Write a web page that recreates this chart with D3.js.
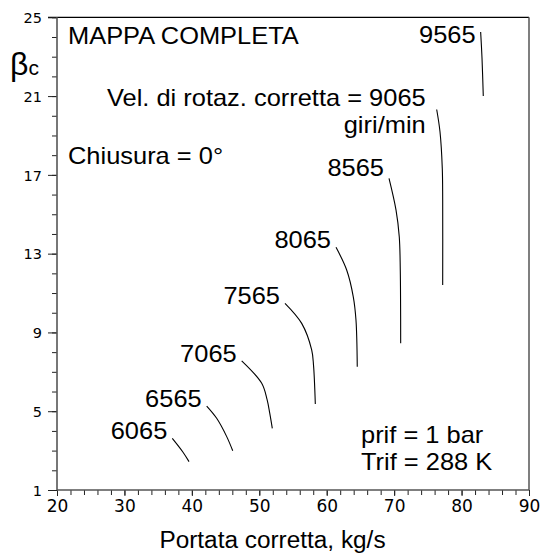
<!DOCTYPE html>
<html>
<head>
<meta charset="utf-8">
<script src="https://cdn.jsdelivr.net/npm/d3@7"></script>
<style>
  html, body { margin: 0; padding: 0; background: #fff; }
  svg { display: block; }
  .lbl { font-family: "Liberation Sans", Arial, Helvetica, sans-serif; fill: #000; }
  .tick-lbl { font-family: "DejaVu Sans", "Liberation Sans", sans-serif; fill: #000; }
</style>
</head>
<body>
<svg id="chart" width="542" height="553"></svg>
<script>
// Corrected rotational speeds (giri/min) of each speed line
const speeds = [6065, 6565, 7065, 7565, 8065, 8565, 9065, 9565];

// Corrected mass flow (kg/s) along each speed line, top to bottom
const flowBySpeed = [
  [37.10, 38.64, 39.58],
  [42.20, 43.68, 45.17, 46.06],
  [47.39, 50.36, 51.15, 51.55, 51.93],
  [53.81, 56.29, 57.77, 58.05, 58.31],
  [61.38, 62.96, 63.94, 64.34, 64.53],
  [69.24, 70.28, 70.76, 70.91, 70.97],
  [76.31, 76.80, 77.14, 77.20, 77.20],
  [82.83, 83.03, 83.22]
];

// Compressor pressure ratio (beta_c) along each speed line
const betaBySpeed = [
  [3.62, 2.94, 2.44],
  [5.26, 4.64, 3.71, 2.99],
  [7.56, 6.42, 5.60, 4.90, 4.13],
  [10.48, 9.46, 8.11, 7.30, 5.37],
  [13.32, 12.17, 10.81, 9.63, 7.26],
  [16.82, 15.21, 13.86, 12.17, 8.45],
  [20.32, 19.19, 17.33, 15.72, 11.41],
  [24.25, 22.93, 21.00]
];

// Axis tick values
const xTickValues = [20, 30, 40, 50, 60, 70, 80, 90];
const xMinorValues = d3.range(20, 91, 2);
const yTickValues = [1, 5, 9, 13, 17, 21, 25];
const yMinorValues = d3.range(1, 26, 1);

const svg = d3.select("#chart");

const x = d3.scaleLinear().domain([20, 90]).range([57, 529]);
const y = d3.scaleLinear().domain([1, 25]).range([490, 17.3]);

// Text helper: slightly widened sans-serif lettering
const WIDEN = 1.06;
function label(parent, px, py, str, size, anchor) {
  return parent.append("text").attr("class", "lbl")
    .attr("transform", `translate(${px},${py}) scale(${WIDEN},1)`)
    .attr("text-anchor", anchor || "start")
    .style("font-size", size + "px")
    .text(str);
}

// Frame: black top edge, grey right edge
svg.append("line")
  .attr("x1", 48).attr("x2", x(90))
  .attr("y1", y(25)).attr("y2", y(25))
  .attr("stroke", "#000").attr("stroke-width", 1.2);
svg.append("line")
  .attr("x1", x(90)).attr("x2", x(90))
  .attr("y1", y(25)).attr("y2", y(1))
  .attr("stroke", "#555").attr("stroke-width", 1.5);

// Y axis
const yMinor = svg.append("g").attr("transform", `translate(${x(20)},0)`)
  .call(d3.axisLeft(y).tickValues(yMinorValues).tickSize(5).tickFormat(""));
const yMajor = svg.append("g").attr("transform", `translate(${x(20)},0)`)
  .call(d3.axisLeft(y).tickValues(yTickValues).tickSize(9).tickPadding(6));
[yMinor, yMajor].forEach(g => {
  g.select(".domain").remove();
  g.selectAll(".tick line").attr("stroke", "#222").attr("stroke-width", 1);
});
yMajor.selectAll(".tick text")
  .attr("class", "tick-lbl")
  .style("font-size", "14.5px")
  .attr("dy", "0.36em");

// X axis
const xMinor = svg.append("g").attr("transform", `translate(0,${y(1)})`)
  .call(d3.axisBottom(x).tickValues(xMinorValues).tickSize(5).tickFormat(""));
const xMajor = svg.append("g").attr("transform", `translate(0,${y(1)})`)
  .call(d3.axisBottom(x).tickValues(xTickValues).tickSize(6).tickPadding(4));
[xMinor, xMajor].forEach(g => {
  g.select(".domain").remove();
  g.selectAll(".tick line").attr("stroke", "#222").attr("stroke-width", 1);
});
xMajor.selectAll(".tick text")
  .attr("class", "tick-lbl")
  .style("font-size", "17px");

// Axis lines
svg.append("line")
  .attr("x1", x(20)).attr("x2", x(20))
  .attr("y1", y(25)).attr("y2", y(1))
  .attr("stroke", "#555").attr("stroke-width", 1.6);
svg.append("line")
  .attr("x1", x(20)).attr("x2", x(90))
  .attr("y1", y(1)).attr("y2", y(1))
  .attr("stroke", "#555").attr("stroke-width", 1.6);

// Axis titles
label(svg, 272.5, 548, "Portata corretta, kg/s", 23, "middle");

const yTitle = svg.append("text").attr("class", "lbl")
  .attr("x", 10).attr("y", 75)
  .style("font-size", "32px");
yTitle.append("tspan").text("β");
yTitle.append("tspan").attr("x", 28.5).attr("dy", 0).style("font-size", "21px").text("c");

// Speed lines
const line = d3.line()
  .x(d => x(d[0]))
  .y(d => y(d[1]))
  .curve(d3.curveCatmullRom.alpha(0.5));

const series = speeds.map((s, i) => ({
  speed: s,
  points: flowBySpeed[i].map((f, j) => [f, betaBySpeed[i][j]])
}));

svg.append("g").selectAll("path")
  .data(series)
  .join("path")
  .attr("d", d => line(d.points))
  .attr("fill", "none")
  .attr("stroke", "#000")
  .attr("stroke-width", 1.1);

// Speed labels, set just left of the top of each line
const fontSize = 24;
series.forEach(d => {
  const [f0, b0] = d.points[0];
  const px = x(f0), py = y(b0);
  if (d.speed === 9065) {
    label(svg, px - 11, py - 3, "Vel. di rotaz. corretta = " + d.speed, fontSize, "end");
    label(svg, px - 11, py + 24, "giri/min", fontSize, "end");
  } else {
    const dy = d.speed === 9565 ? 11 : (d.speed === 8565 ? -2 : 1);
    label(svg, px - 5, py + dy, String(d.speed), fontSize, "end");
  }
});

// Notes inside the plot
label(svg, 68, 44, "MAPPA COMPLETA", fontSize);
label(svg, 68, 164, "Chiusura = 0°", fontSize);
label(svg, 361, 443, "prif = 1 bar", fontSize);
label(svg, 361, 470, "Trif = 288 K", fontSize);
</script>
</body>
</html>
